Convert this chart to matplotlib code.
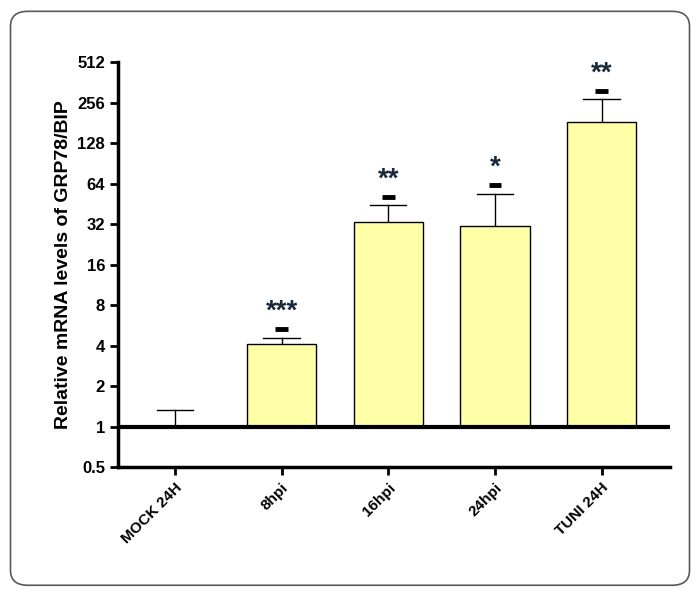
import numpy as np
import matplotlib.pyplot as plt
from matplotlib.patches import FancyBboxPatch

plt.rcParams["font.family"] = "Liberation Sans"

# Data
categories = ["MOCK 24H", "8hpi", "16hpi", "24hpi", "TUNI 24H"]
means = [1.0, 4.1, 33.0, 31.0, 184.0]
err_top = [1.33, 4.6, 44.0, 54.0, 270.0]
stars = ["", "***", "**", "*", "**"]
yticks = [0.5, 1, 2, 4, 8, 16, 32, 64, 128, 256, 512]

fig = plt.figure(figsize=(7.0, 5.96), dpi=100)
fig.patches.append(FancyBboxPatch((0.015, 0.018), 0.97, 0.963, boxstyle="round,pad=0,rounding_size=0.025",
                                  transform=fig.transFigure, fill=False, edgecolor="0.35", linewidth=1.2))
ax = fig.add_axes([0.169, 0.216, 0.788, 0.68])
ax.set_yscale("log", base=2)
x = np.arange(len(categories))
heights = [m - 1 for m in means]
ax.bar(x, heights, bottom=1, width=0.65, color="#FFFFA8", edgecolor="black", linewidth=1.0, zorder=2)
for xi, m, e in zip(x, means, err_top):
    ax.plot([xi, xi], [m, e], color="black", linewidth=1.0, zorder=1)
    ax.plot([xi - 0.17, xi + 0.17], [e, e], color="black", linewidth=1.0, zorder=1)

for xi, e, s in zip(x, err_top, stars):
    if not s:
        continue
    ax.plot([xi - 0.06, xi + 0.06], [e * 1.15, e * 1.15], color="black", linewidth=3.5, solid_capstyle="butt")
    ax.text(xi, e * 1.56, s, ha="center", va="center", fontsize=20, fontweight="bold", color="#1a2a3a")

ax.axhline(1, color="black", linewidth=3)
ax.set_ylim(0.5, 512)
ax.set_xlim(-0.53, 4.64)
ax.set_yticks(yticks)
ax.set_yticklabels([str(t) for t in yticks], fontsize=12, fontweight="bold")
ax.minorticks_off()
ax.set_xticks(x)
ax.set_xticklabels(categories, rotation=45, ha="right", rotation_mode="anchor", fontsize=11, fontweight="bold")
ax.set_ylabel("Relative mRNA levels of GRP78/BIP", fontsize=14, fontweight="bold")
for side in ["top", "right"]:
    ax.spines[side].set_visible(False)
for side in ["left", "bottom"]:
    ax.spines[side].set_linewidth(2.5)
ax.tick_params(width=2, length=6)

fig.savefig("out.png", dpi=100)
